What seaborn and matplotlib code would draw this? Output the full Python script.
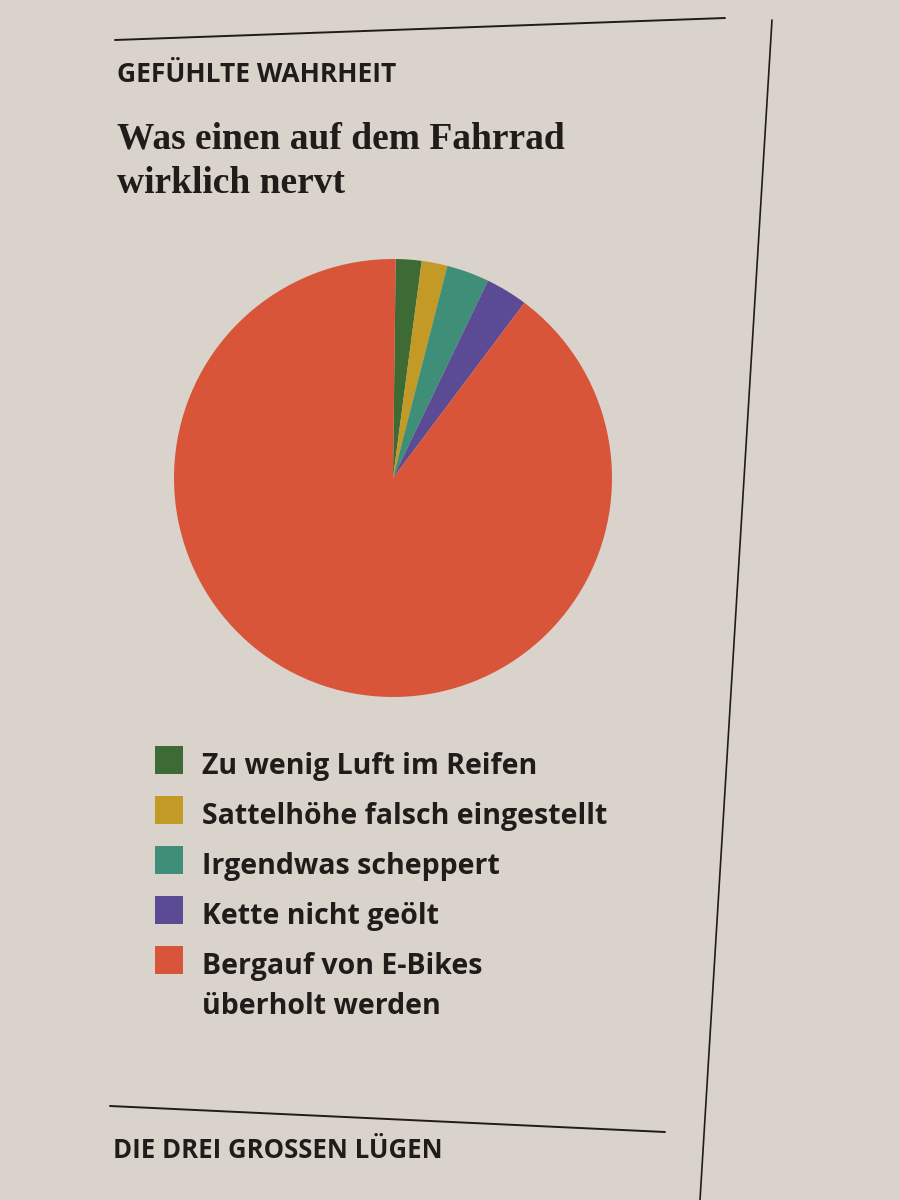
import matplotlib
matplotlib.use("Agg")
import matplotlib.pyplot as plt
import seaborn as sns
from matplotlib.patches import Rectangle
from matplotlib.lines import Line2D

# Daten (Anteile in Prozent, aus dem Bild geschaetzt)
labels = [
    "Zu wenig Luft im Reifen",
    "Sattelhöhe falsch eingestellt",
    "Irgendwas scheppert",
    "Kette nicht geölt",
    "Bergauf von E-Bikes\nüberholt werden",
]
shares = [1.9, 1.9, 3.15, 3.1, 89.95]
colors = ["#3e6a36", "#c39a25", "#3f8f78", "#5a4b94", "#d8553a"]

kicker = "GEFÜHLTE WAHRHEIT"
headline = "Was einen auf dem Fahrrad\nwirklich nervt"
next_kicker = "DIE DREI GROSSEN LÜGEN"

bg = "#d9d3cb"
ink = "#1f1c1a"

sns.set_theme(style="white")
plt.rcParams["font.family"] = ["Open Sans", "DejaVu Sans"]

W, H = 900, 1200
fig = plt.figure(figsize=(9, 12), dpi=100, facecolor=bg)


def fx(x):
    return x / W


def fy(y):
    return 1 - y / H


# Linien der Zeitungsseite
fig.add_artist(Line2D([fx(115), fx(725)], [fy(40), fy(18)], color=ink, lw=1.4,
                      transform=fig.transFigure))
fig.add_artist(Line2D([fx(772), fx(700)], [fy(20), fy(1200)], color=ink, lw=1.2,
                      transform=fig.transFigure))
fig.add_artist(Line2D([fx(110), fx(665)], [fy(1106), fy(1132)], color=ink, lw=1.4,
                      transform=fig.transFigure))

# Titel
fig.text(fx(117), fy(82), kicker, fontsize=19, fontweight="bold", color=ink,
         va="baseline", ha="left")
# bei mehrzeiligem Text bezieht sich "baseline" auf die letzte Zeile
fig.text(fx(117), fy(193), headline, fontsize=27, fontweight="bold", color=ink,
         va="baseline", ha="left", family=["Liberation Serif", "DejaVu Serif"],
         linespacing=1.35)

# Torte
cx, cy, r = 393, 478, 219
ax = fig.add_axes([fx(cx - r), fy(cy + r), 2 * r / W, 2 * r / H])
ax.set_facecolor(bg)
ax.pie(shares, colors=colors, startangle=89.3, counterclock=False,
       wedgeprops=dict(linewidth=0))
ax.set_xlim(-1, 1)
ax.set_ylim(-1, 1)
ax.set_aspect("equal")
ax.axis("off")

# Legende
rows = [760, 810, 860, 910, 960]
for lab, col, yy in zip(labels, colors, rows):
    fig.add_artist(Rectangle((fx(155), fy(yy + 14)), 28 / W, 28 / H,
                             facecolor=col, edgecolor="none",
                             transform=fig.transFigure))
    extra = 40 * lab.count("\n")
    fig.text(fx(202), fy(yy + 14 + extra), lab, fontsize=20.5, fontweight="bold",
             color=ink, va="baseline", ha="left", linespacing=1.5)

fig.text(fx(113), fy(1158), next_kicker, fontsize=18.5, fontweight="bold",
         color=ink, va="baseline", ha="left")

fig.savefig("out.png", dpi=100, facecolor=bg)
